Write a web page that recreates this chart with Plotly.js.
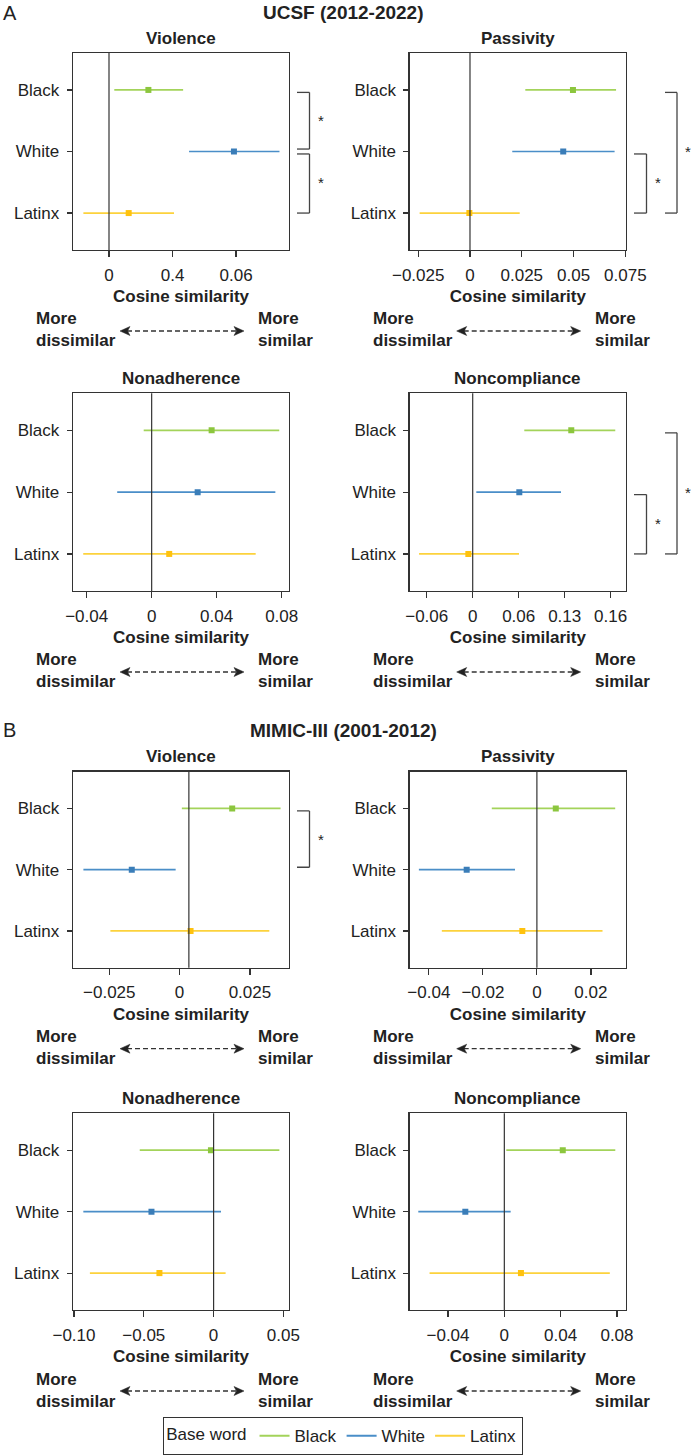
<!DOCTYPE html>
<html><head><meta charset="utf-8">
<script src="https://cdn.plot.ly/plotly-3.0.1.min.js"></script>
<style>html,body{margin:0;padding:0;background:#fff}</style>
</head><body><div id="chart" style="width:692px;height:1456px"></div>
<script>
// ---------- DATA ----------
const groups = ["Black", "White", "Latinx"];

// UCSF (2012-2022)
const ucsfViolenceEst  = [0.0186, 0.0590, 0.0093];
const ucsfViolenceLow  = [0.0025, 0.0378, -0.0121];
const ucsfViolenceHigh = [0.0350, 0.0805, 0.0307];

const ucsfPassivityEst  = [0.0497, 0.0450, -0.0003];
const ucsfPassivityLow  = [0.0267, 0.0204, -0.0243];
const ucsfPassivityHigh = [0.0705, 0.0698, 0.0240];

const ucsfNonadherenceEst  = [0.0369, 0.0283, 0.0108];
const ucsfNonadherenceLow  = [-0.0049, -0.0212, -0.0421];
const ucsfNonadherenceHigh = [0.0785, 0.0761, 0.0640];

const ucsfNoncomplianceEst  = [0.1286, 0.0608, -0.0057];
const ucsfNoncomplianceLow  = [0.0673, 0.0047, -0.0700];
const ucsfNoncomplianceHigh = [0.1860, 0.1152, 0.0604];

// MIMIC-III (2001-2012)
const mimicViolenceEst  = [0.0187, -0.0170, 0.0039];
const mimicViolenceLow  = [0.0008, -0.0342, -0.0246];
const mimicViolenceHigh = [0.0359, -0.0014, 0.0319];

const mimicPassivityEst  = [0.0070, -0.0260, -0.0054];
const mimicPassivityLow  = [-0.0167, -0.0437, -0.0352];
const mimicPassivityHigh = [0.0290, -0.0081, 0.0243];

const mimicNonadherenceEst  = [-0.0019, -0.0445, -0.0388];
const mimicNonadherenceLow  = [-0.0529, -0.0933, -0.0886];
const mimicNonadherenceHigh = [0.0471, 0.0053, 0.0086];

const mimicNoncomplianceEst  = [0.0415, -0.0277, 0.0118];
const mimicNoncomplianceLow  = [0.0014, -0.0611, -0.0531];
const mimicNoncomplianceHigh = [0.0788, 0.0045, 0.0749];

// Tick labels (as printed in the figure)
const ucsfViolenceTicks = [0, 0.03, 0.06];
const ucsfViolenceTickText = ["0", "0.4", "0.06"];
const ucsfPassivityTicks = [-0.025, 0, 0.025, 0.05, 0.075];
const ucsfPassivityTickText = ["\u22120.025", "0", "0.025", "0.05", "0.075"];
const ucsfNonadherenceTicks = [-0.04, 0, 0.04, 0.08];
const ucsfNonadherenceTickText = ["\u22120.04", "0", "0.04", "0.08"];
const ucsfNoncomplianceTicks = [-0.06, 0, 0.06, 0.12, 0.18];
const ucsfNoncomplianceTickText = ["\u22120.06", "0", "0.06", "0.13", "0.16"];
const mimicViolenceTicks = [-0.025, 0, 0.025];
const mimicViolenceTickText = ["\u22120.025", "0", "0.025"];
const mimicPassivityTicks = [-0.04, -0.02, 0, 0.02];
const mimicPassivityTickText = ["\u22120.04", "\u22120.02", "0", "0.02"];
const mimicNonadherenceTicks = [-0.10, -0.05, 0, 0.05];
const mimicNonadherenceTickText = ["\u22120.10", "\u22120.05", "0", "0.05"];
const mimicNoncomplianceTicks = [-0.04, 0, 0.04, 0.08];
const mimicNoncomplianceTickText = ["\u22120.04", "0", "0.04", "0.08"];

// Significance brackets: [upper group, lower group]
const ucsfViolenceSig = [["Black", "White"], ["White", "Latinx"]];
const ucsfPassivitySig = [["White", "Latinx"], ["Black", "Latinx"]];
const ucsfNoncomplianceSig = [["White", "Latinx"], ["Black", "Latinx"]];
const mimicViolenceSig = [["Black", "White"]];

// ---------- STYLE / LAYOUT ----------
const W = 692, H = 1456;
const px = x => x / W, py = y => 1 - y / H;
const FONT = '"Liberation Sans", Arial, Helvetica, sans-serif';
const TXT = '#222';
const lineColors = ['#a3d35a', '#4a8ec8', '#fcd23c'];
const markerColors = ['#8cc63e', '#3a7db8', '#ffc20e'];
const cols = [[73, 289], [409.7, 626]];
const rows = [[53, 250], [393.3, 591], [771.7, 967.7], [1113.3, 1310]];
const catOrder = ['Latinx', 'White', 'Black'];

const panels = [
  {title: 'Violence', est: ucsfViolenceEst, lo: ucsfViolenceLow, hi: ucsfViolenceHigh, col: 0, row: 0, range: [-0.017, 0.085], tv: ucsfViolenceTicks, tt: ucsfViolenceTickText, ref: 0, sig: ucsfViolenceSig, levels: [0, 0]},
  {title: 'Passivity', est: ucsfPassivityEst, lo: ucsfPassivityLow, hi: ucsfPassivityHigh, col: 1, row: 0, range: [-0.0291, 0.0753], tv: ucsfPassivityTicks, tt: ucsfPassivityTickText, ref: 0, sig: ucsfPassivitySig, levels: [0, 1]},
  {title: 'Nonadherence', est: ucsfNonadherenceEst, lo: ucsfNonadherenceLow, hi: ucsfNonadherenceHigh, col: 0, row: 1, range: [-0.0484, 0.0845], tv: ucsfNonadherenceTicks, tt: ucsfNonadherenceTickText, ref: 0, sig: [], levels: []},
  {title: 'Noncompliance', est: ucsfNoncomplianceEst, lo: ucsfNoncomplianceLow, hi: ucsfNoncomplianceHigh, col: 1, row: 1, range: [-0.0822, 0.2], tv: ucsfNoncomplianceTicks, tt: ucsfNoncomplianceTickText, ref: 0, sig: ucsfNoncomplianceSig, levels: [0, 1]},
  {title: 'Violence', est: mimicViolenceEst, lo: mimicViolenceLow, hi: mimicViolenceHigh, col: 0, row: 2, range: [-0.0379, 0.0389], tv: mimicViolenceTicks, tt: mimicViolenceTickText, ref: 0.0033, sig: mimicViolenceSig, levels: [0]},
  {title: 'Passivity', est: mimicPassivityEst, lo: mimicPassivityLow, hi: mimicPassivityHigh, col: 1, row: 2, range: [-0.0471, 0.033], tv: mimicPassivityTicks, tt: mimicPassivityTickText, ref: 0, sig: [], levels: []},
  {title: 'Nonadherence', est: mimicNonadherenceEst, lo: mimicNonadherenceLow, hi: mimicNonadherenceHigh, col: 0, row: 3, range: [-0.1007, 0.054], tv: mimicNonadherenceTicks, tt: mimicNonadherenceTickText, ref: 0, sig: [], levels: []},
  {title: 'Noncompliance', est: mimicNoncomplianceEst, lo: mimicNoncomplianceLow, hi: mimicNoncomplianceHigh, col: 1, row: 3, range: [-0.0672, 0.0864], tv: mimicNoncomplianceTicks, tt: mimicNoncomplianceTickText, ref: 0, sig: [], levels: []}
];

const data = [];
const shapes = [];
const annotations = [];
const layout = {
  width: W, height: H,
  margin: {l: 0, r: 0, t: 0, b: 0},
  paper_bgcolor: '#fff', plot_bgcolor: '#fff',
  font: {family: FONT, size: 17, color: TXT},
  showlegend: true,
  legend: {
    orientation: 'h', x: px(343), xanchor: 'center', y: py(1455), yanchor: 'bottom',
    title: {text: 'Base word', font: {size: 17, color: TXT}, side: 'left'},
    font: {size: 17, color: TXT}, bordercolor: '#333', borderwidth: 1.2, bgcolor: '#fff',
    itemwidth: 30, tracegroupgap: 0
  },
  shapes: shapes, annotations: annotations
};

panels.forEach((p, i) => {
  const n = i + 1, s = n === 1 ? '' : String(n);
  const c = cols[p.col], r = rows[p.row];
  groups.forEach((g, j) => {
    data.push({
      type: 'scatter', mode: 'markers', x: [p.est[j]], y: [g],
      xaxis: 'x' + s, yaxis: 'y' + s, name: g, showlegend: false,
      marker: {symbol: 'square', size: 6, color: markerColors[j]},
      error_x: {type: 'data', symmetric: false, array: [p.hi[j] - p.est[j]], arrayminus: [p.est[j] - p.lo[j]],
        color: lineColors[j], thickness: 1.7, width: 0}
    });
  });
  layout['xaxis' + s] = {
    domain: [px(c[0]), px(c[1])], anchor: 'y' + s, range: p.range,
    tickmode: 'array', tickvals: p.tv, ticktext: p.tt,
    ticks: 'outside', ticklen: 6, tickwidth: 1.2, tickcolor: '#333', ticklabelstandoff: 3,
    showline: true, mirror: true, linecolor: '#333', linewidth: 1.3,
    showgrid: false, zeroline: false, fixedrange: true,
    tickfont: {size: 17, color: TXT},
    title: {text: '<b>Cosine similarity</b>', font: {size: 17, color: TXT}, standoff: 6}
  };
  layout['yaxis' + s] = {
    domain: [py(r[1]), py(r[0])], anchor: 'x' + s, type: 'category',
    categoryorder: 'array', categoryarray: catOrder, range: [-0.6, 2.6],
    ticks: 'outside', ticklen: 5, tickwidth: 1.2, tickcolor: '#333', ticklabelstandoff: 4,
    showline: true, mirror: true, linecolor: '#333', linewidth: 1.3,
    showgrid: false, zeroline: false, fixedrange: true,
    tickfont: {size: 17, color: TXT}
  };
  // reference line
  shapes.push({type: 'line', xref: 'x' + s, yref: 'y' + s + ' domain', x0: p.ref, x1: p.ref, y0: 0, y1: 1,
    line: {color: '#333', width: 1.2}});
  // panel title
  annotations.push({xref: 'paper', yref: 'paper', x: px((c[0] + c[1]) / 2), y: py(r[0] - 15),
    xanchor: 'center', yanchor: 'middle', showarrow: false, text: '<b>' + p.title + '</b>',
    font: {size: 17, color: TXT}});
  // significance brackets
  p.sig.forEach((pair, k) => {
    const lv = p.levels[k];
    const off = lv === 0 ? [8, 20.5, 31.5] : [39, 51, 62];
    const xa = px(c[1] + off[0]), xb = px(c[1] + off[1]), xs = px(c[1] + off[2]);
    const up = catOrder.indexOf(pair[0]), low = catOrder.indexOf(pair[1]);
    const yA = up - 0.04, yB = low === 0 ? low : low + 0.04;
    const ln = {color: '#444', width: 1.3};
    shapes.push({type: 'line', xref: 'paper', yref: 'y' + s, x0: xa, x1: xb, y0: yA, y1: yA, line: ln});
    shapes.push({type: 'line', xref: 'paper', yref: 'y' + s, x0: xb, x1: xb, y0: yA, y1: yB, line: ln});
    shapes.push({type: 'line', xref: 'paper', yref: 'y' + s, x0: xa, x1: xb, y0: yB, y1: yB, line: ln});
    annotations.push({xref: 'paper', yref: 'y' + s, x: xs, y: (up + low) / 2, text: '*', showarrow: false,
      xanchor: 'center', yanchor: 'middle', font: {size: 15, color: TXT}});
  });
  // direction arrows
  const ay = r[1] + 81;
  const aL = c[0] + 47, aR = c[0] + 171;
  shapes.push({type: 'line', xref: 'paper', yref: 'paper', x0: px(aL + 7), x1: px(aR - 7), y0: py(ay), y1: py(ay),
    line: {color: '#333', width: 1.3, dash: '5px,3px'}});
  shapes.push({type: 'path', xref: 'paper', yref: 'paper', fillcolor: '#222', line: {color: '#222', width: 0.5},
    path: `M${px(aL)},${py(ay)} L${px(aL + 10)},${py(ay - 4.5)} L${px(aL + 7.5)},${py(ay)} L${px(aL + 10)},${py(ay + 4.5)} Z`});
  shapes.push({type: 'path', xref: 'paper', yref: 'paper', fillcolor: '#222', line: {color: '#222', width: 0.5},
    path: `M${px(aR)},${py(ay)} L${px(aR - 10)},${py(ay - 4.5)} L${px(aR - 7.5)},${py(ay)} L${px(aR - 10)},${py(ay + 4.5)} Z`});
  annotations.push({xref: 'paper', yref: 'paper', x: px(c[0] - 39), y: py(ay - 1), xanchor: 'left', yanchor: 'middle',
    align: 'left', showarrow: false, text: '<b>More<br>dissimilar</b>', font: {size: 17, color: TXT}});
  annotations.push({xref: 'paper', yref: 'paper', x: px(c[0] + 183), y: py(ay - 1), xanchor: 'left', yanchor: 'middle',
    align: 'left', showarrow: false, text: '<b>More<br>similar</b>', font: {size: 17, color: TXT}});
});

// section titles
annotations.push({xref: 'paper', yref: 'paper', x: px(1), y: py(13), xanchor: 'left', yanchor: 'middle', showarrow: false,
  text: 'A', font: {size: 20, color: TXT}});
annotations.push({xref: 'paper', yref: 'paper', x: px(343.5), y: py(13), xanchor: 'center', yanchor: 'middle', showarrow: false,
  text: '<b>UCSF (2012-2022)</b>', font: {size: 19, color: TXT}});
annotations.push({xref: 'paper', yref: 'paper', x: px(1), y: py(730), xanchor: 'left', yanchor: 'middle', showarrow: false,
  text: 'B', font: {size: 20, color: TXT}});
annotations.push({xref: 'paper', yref: 'paper', x: px(343.5), y: py(730), xanchor: 'center', yanchor: 'middle', showarrow: false,
  text: '<b>MIMIC-III (2001-2012)</b>', font: {size: 19, color: TXT}});

// legend-only entries (line samples)
groups.forEach((g, j) => {
  data.push({type: 'scatter', mode: 'lines', x: [null], y: [null], name: g, xaxis: 'x', yaxis: 'y',
    line: {color: lineColors[j], width: 2}, showlegend: true, hoverinfo: 'skip'});
});

Plotly.newPlot('chart', data, layout, {displayModeBar: false, staticPlot: true});
</script>
</body></html>
